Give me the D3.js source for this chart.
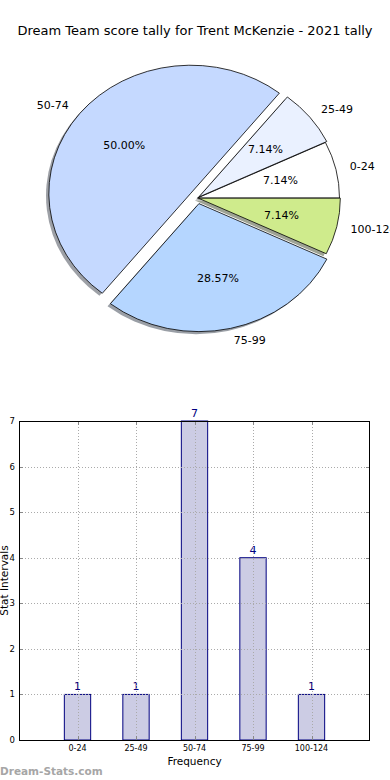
<!DOCTYPE html>
<html>
<head>
<meta charset="utf-8">
<script src="https://cdn.jsdelivr.net/npm/d3@7"></script>
<style>
  html, body { margin: 0; padding: 0; background: #fff; }
  svg { display: block; font-family: "DejaVu Sans", sans-serif; }
</style>
</head>
<body>
<svg id="chart" width="390" height="780"></svg>
<script>
const titleText = "Dream Team score tally for Trent McKenzie - 2021 tally";
const categories = ["0-24", "25-49", "50-74", "75-99", "100-124"];
const counts = [1, 1, 7, 4, 1];
const pieColors = ["#ffffff", "#eaf1ff", "#c5d9ff", "#b5d6ff", "#cfeb8c"];
const explode = [0, 0.012, 0.06, 0.045, 0.006];
const yTickValues = [0, 1, 2, 3, 4, 5, 6, 7];
const xLabel = "Frequency";
const yLabel = "Stat Intervals";
const watermark = "Dream-Stats.com";

(function () {
const svg = d3.select("#chart");
svg.append("rect").attr("width", 390).attr("height", 780).attr("fill", "#fff");

svg.append("text").attr("x", 195).attr("y", 35).attr("text-anchor", "middle")
  .attr("font-size", 13).attr("fill", "#000").text(titleText);

// ---------- Pie ----------
const cx = 197.5, cy = 198, rx = 142, ry = 128, k = ry / rx;
const total = d3.sum(counts);
const pie = d3.pie().sort(null).value(d => d)
  .startAngle(Math.PI / 2).endAngle(Math.PI / 2 - 2 * Math.PI);
const arcs = pie(counts);
const arcGen = d3.arc().innerRadius(0).outerRadius(rx);

const slices = arcs.map((a, i) => {
  const mid = (a.startAngle + a.endAngle) / 2;
  const dx = explode[i] * rx * Math.sin(mid);
  const dy = -explode[i] * ry * Math.cos(mid);
  return { a, i, mid, dx, dy };
});

const pieG = svg.append("g");
pieG.selectAll("g.shadow").data(slices).join("g")
  .attr("class", "shadow")
  .attr("transform", d => `translate(${cx + d.dx - 0.02 * rx},${cy + d.dy + 0.02 * ry}) scale(1,${k})`)
  .append("path")
  .attr("d", d => arcGen(d.a))
  .attr("fill", d => {
    const c = d3.rgb(pieColors[d.i]);
    return d3.rgb(c.r * 0.3, c.g * 0.3, c.b * 0.3).toString();
  })
  .attr("fill-opacity", 0.5);

pieG.selectAll("g.wedge").data(slices).join("g")
  .attr("class", "wedge")
  .attr("transform", d => `translate(${cx + d.dx},${cy + d.dy}) scale(1,${k})`)
  .append("path")
  .attr("d", d => arcGen(d.a))
  .attr("fill", d => pieColors[d.i])
  .attr("stroke", "#000")
  .attr("stroke-width", 0.8)
  .attr("vector-effect", "non-scaling-stroke")
  .attr("stroke-linejoin", "round");

pieG.selectAll("text.lbl").data(slices).join("text")
  .attr("class", "lbl")
  .attr("x", d => cx + d.dx + 1.1 * rx * Math.sin(d.mid))
  .attr("y", d => cy + d.dy - 1.1 * ry * Math.cos(d.mid))
  .attr("text-anchor", d => Math.sin(d.mid) > 0 ? "start" : "end")
  .attr("dominant-baseline", "central")
  .attr("font-size", 11)
  .attr("fill", "#000")
  .text(d => categories[d.i]);

pieG.selectAll("text.pct").data(slices).join("text")
  .attr("class", "pct")
  .attr("x", d => cx + d.dx + 0.6 * rx * Math.sin(d.mid))
  .attr("y", d => cy + d.dy - 0.6 * ry * Math.cos(d.mid))
  .attr("text-anchor", "middle")
  .attr("dominant-baseline", "central")
  .attr("font-size", 11)
  .attr("fill", "#000")
  .text(d => (counts[d.i] / total * 100).toFixed(2) + "%");

// ---------- Bar chart ----------
const pLeft = 19, pRight = 370, pTop = 421, pBottom = 740;
const x = d3.scaleLinear().domain([-1, categories.length]).range([pLeft, pRight]);
const y = d3.scaleLinear().domain([0, 7]).range([pBottom, pTop]);
const barW = 0.45;

const barG = svg.append("g");
barG.selectAll("rect.bar").data(counts).join("rect")
  .attr("class", "bar")
  .attr("x", (d, i) => x(i - barW / 2))
  .attr("y", d => y(d))
  .attr("width", x(barW) - x(0))
  .attr("height", d => y(0) - y(d))
  .attr("fill", "#cccce4")
  .attr("stroke", "#000080")
  .attr("stroke-width", 1);

const gridG = svg.append("g").attr("stroke", "#aaaaaa").attr("stroke-width", 1)
  .attr("stroke-dasharray", "1,2");
gridG.selectAll("line.vg").data(categories).join("line")
  .attr("x1", (d, i) => Math.round(x(i)) + 0.5).attr("x2", (d, i) => Math.round(x(i)) + 0.5)
  .attr("y1", pTop).attr("y2", pBottom);
gridG.selectAll("line.hg").data(yTickValues.slice(1, -1)).join("line")
  .attr("y1", d => Math.round(y(d)) + 0.5).attr("y2", d => Math.round(y(d)) + 0.5)
  .attr("x1", pLeft).attr("x2", pRight);

const tickG = svg.append("g").attr("stroke", "#888").attr("stroke-width", 1);
categories.forEach((c, i) => {
  const xx = Math.round(x(i)) + 0.5;
  tickG.append("line").attr("x1", xx).attr("x2", xx).attr("y1", pBottom).attr("y2", pBottom - 4);
  tickG.append("line").attr("x1", xx).attr("x2", xx).attr("y1", pTop).attr("y2", pTop + 4);
});
yTickValues.forEach(v => {
  const yy = Math.round(y(v)) + 0.5;
  tickG.append("line").attr("x1", pLeft).attr("x2", pLeft + 4).attr("y1", yy).attr("y2", yy);
  tickG.append("line").attr("x1", pRight).attr("x2", pRight - 4).attr("y1", yy).attr("y2", yy);
});

svg.append("rect").attr("x", pLeft + 0.5).attr("y", pTop + 0.5)
  .attr("width", pRight - pLeft - 1).attr("height", pBottom - pTop)
  .attr("fill", "none").attr("stroke", "#000").attr("stroke-width", 1);

barG.selectAll("text.val").data(counts).join("text")
  .attr("class", "val")
  .attr("x", (d, i) => x(i))
  .attr("y", d => y(d) - 4)
  .attr("text-anchor", "middle")
  .attr("font-size", 11)
  .attr("fill", "#000080")
  .text(d => d);

svg.append("g").selectAll("text").data(categories).join("text")
  .attr("x", (d, i) => x(i)).attr("y", pBottom + 11)
  .attr("text-anchor", "middle").attr("font-size", 8).attr("fill", "#000")
  .text(d => d);

svg.append("g").selectAll("text").data(yTickValues).join("text")
  .attr("x", 15).attr("y", d => y(d)).attr("dominant-baseline", "central")
  .attr("text-anchor", "end").attr("font-size", 8.5).attr("fill", "#000")
  .text(d => d);

svg.append("text").attr("x", (pLeft + pRight) / 2).attr("y", 765)
  .attr("text-anchor", "middle").attr("font-size", 10.5).attr("fill", "#000").text(xLabel);
svg.append("text").attr("transform", `translate(8,${(pTop + pBottom) / 2}) rotate(-90)`)
  .attr("text-anchor", "middle").attr("font-size", 10.5).attr("fill", "#000").text(yLabel);

svg.append("text").attr("x", 0).attr("y", 775).attr("font-size", 10.5)
  .attr("font-weight", "bold").attr("fill", "#a6a6a6").text(watermark);
})();
</script>
</body>
</html>
